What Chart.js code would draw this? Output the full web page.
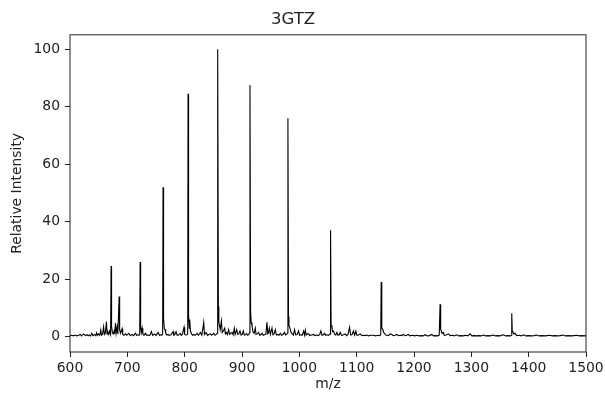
<!DOCTYPE html>
<html>
<head>
<meta charset="utf-8">
<script src="https://cdn.jsdelivr.net/npm/chart.js@4.4.1/dist/chart.umd.min.js"></script>
<style>
  html, body { margin: 0; padding: 0; background: #fff; }
  #wrap { width: 605px; height: 393px; }
</style>
</head>
<body>
<div id="wrap"><canvas id="spectrum" width="605" height="393"></canvas></div>
<script>
// m/z values (rows of ten, matching the intensity rows below)
const mz = [
  600, 603, 606, 609, 612, 615, 618, 620, 624, 627,
  630, 632, 634, 636, 638, 640, 643, 645, 646.5, 648,
  650, 652, 653.7, 655, 657, 658.6, 660, 661.5, 663.6, 664.6,
  666, 667.5, 669, 670.8, 671.7, 672.5, 674, 675.5, 677, 678,
  679.3, 680.5, 682.2, 683.5, 685.7, 686.6, 688, 690.9, 692, 694,
  696.7, 699, 702.5, 705, 708.3, 711, 714.1, 716, 718, 720,
  721.6, 722.3, 723.2, 724.5, 725.8, 727, 729, 731.6, 734, 737,
  739, 742, 744, 747.8, 750, 753.6, 756, 758, 760, 761.6,
  762.3, 763.2, 764.5, 765.8, 767, 769, 771, 773, 776, 779.8,
  781, 783, 785, 787, 789, 792, 794, 796, 798.9, 800,
  802, 804, 805.3, 805.9, 806.8, 808, 808.8, 810, 812, 814,
  816, 818, 821.6, 824, 827.4, 830, 833.2, 834.5, 837.3, 840,
  842, 844.8, 847, 850.6, 853, 855, 856.8, 857.6, 858.8, 859.6,
  860.5, 862, 864, 865.5, 867.5, 869.8, 871, 873, 874.5, 876.7,
  878.5, 880.5, 882.6, 884.5, 886.6, 888, 890.7, 892.5, 894.5, 896.5,
  898.5, 900.5, 902.3, 904, 906, 908.1, 910, 912, 913.2, 913.9,
  915, 916, 917.4, 919, 921, 923.2, 924.5, 926.5, 929, 931,
  933, 934.8, 937, 939, 941.5, 943.6, 944.8, 946, 947.6, 949.5,
  952.3, 954, 956, 958.1, 960, 962.5, 964.5, 966.8, 969, 971.5,
  974.3, 976, 978, 979.4, 980.1, 981.1, 981.9, 983.6, 985.5, 987.5,
  989.5, 991.7, 993.5, 996, 998.7, 1000.5, 1003, 1005, 1007.4, 1009,
  1010.4, 1012, 1014, 1016.2, 1018, 1021, 1024.9, 1027, 1030, 1033,
  1035.5, 1037.6, 1039.5, 1042, 1044, 1046, 1048.5, 1051, 1053.6, 1054.5,
  1055.4, 1056.8, 1058, 1059.7, 1061.5, 1063.5, 1065.5, 1067.5, 1069.5, 1071.3,
  1073.5, 1076, 1080, 1082.5, 1085, 1087.6, 1089.5, 1092, 1094.5, 1096.5,
  1098.6, 1100.5, 1103, 1106.2, 1109, 1112, 1115, 1117.8, 1121, 1125,
  1129.4, 1133, 1137, 1140.5, 1142, 1142.8, 1143.8, 1145.7, 1147, 1148.5,
  1150.5, 1153, 1155.5, 1158.5, 1161.4, 1164, 1167, 1170, 1173, 1176,
  1179, 1181, 1184, 1187, 1190, 1193, 1197, 1201, 1205, 1209,
  1213, 1216, 1219.4, 1223, 1227, 1231, 1234, 1238, 1241, 1244,
  1245.5, 1246.5, 1247.5, 1249, 1251, 1253, 1256, 1260, 1263, 1267,
  1270, 1274.5, 1278, 1282, 1286, 1290, 1294, 1297.8, 1301, 1305,
  1309, 1313, 1317, 1321, 1325, 1329, 1333, 1338.5, 1342, 1346,
  1350, 1356, 1360, 1364, 1368, 1369.8, 1370.5, 1371.4, 1372.3, 1374,
  1376, 1379, 1383, 1387, 1391, 1395, 1400, 1405, 1410, 1414,
  1418, 1423, 1428, 1432, 1437, 1441, 1446, 1450, 1455, 1460,
  1464, 1469, 1474, 1479, 1484, 1488, 1493, 1497, 1500
];

const intensity = [
  0.3, 0.5, 0.3, 0.6, 0.3, 0.5, 0.8, 0.3, 1.0, 0.4,
  0.7, 0.3, 0.6, 0.3, 1.2, 0.4, 0.8, 0.4, 1.4, 0.5,
  1.0, 0.5, 2.4, 0.6, 1.0, 3.4, 0.8, 1.2, 5.3, 1.0,
  1.6, 0.8, 2.0, 0.8, 24.6, 3.5, 1.5, 1.0, 2.0, 1.0,
  4.8, 1.2, 3.4, 1.0, 14.0, 2.5, 1.2, 2.8, 0.8, 0.5,
  1.0, 0.5, 1.2, 0.4, 0.8, 0.4, 1.3, 0.5, 0.7, 0.5,
  0.8, 26.0, 3.5, 1.5, 3.0, 1.0, 0.5, 1.2, 0.5, 0.6,
  0.4, 1.8, 0.5, 1.0, 0.4, 1.5, 0.5, 0.7, 0.5, 0.9,
  52.0, 6.4, 2.8, 2.5, 1.2, 0.6, 0.8, 0.5, 0.7, 1.8,
  0.5, 0.8, 1.8, 0.5, 0.6, 1.2, 0.5, 0.8, 3.3, 0.8,
  0.6, 0.7, 1.0, 84.5, 7.5, 3.0, 6.0, 2.0, 1.0, 0.5,
  0.8, 0.5, 1.2, 0.5, 1.5, 0.6, 5.0, 0.8, 1.5, 0.5,
  0.8, 1.0, 0.5, 1.2, 0.5, 0.8, 1.2, 100, 10.5, 5.0,
  4.0, 2.5, 5.5, 1.5, 2.0, 3.0, 1.0, 1.5, 0.8, 2.5,
  0.8, 1.2, 1.5, 0.7, 3.0, 0.8, 2.5, 0.8, 1.0, 2.0,
  0.6, 0.9, 2.0, 0.6, 0.7, 1.0, 0.5, 0.8, 1.5, 87.5,
  9.0, 5.0, 4.0, 1.8, 1.2, 3.0, 0.8, 1.0, 1.5, 0.5,
  0.7, 1.2, 0.5, 0.7, 0.8, 5.0, 1.0, 1.2, 3.0, 0.8,
  3.0, 0.7, 1.0, 2.5, 0.6, 0.8, 0.5, 1.2, 0.5, 0.8,
  1.5, 0.6, 0.8, 1.3, 76.0, 7.0, 4.0, 3.0, 1.5, 1.0,
  0.6, 2.5, 0.7, 0.8, 2.0, 0.5, 0.7, 0.5, 2.0, 0.6,
  2.3, 0.6, 1.0, 1.0, 0.4, 0.6, 0.8, 0.4, 0.6, 0.4,
  0.8, 2.0, 0.5, 0.7, 1.2, 0.5, 0.7, 0.5, 0.9, 37.0,
  4.0, 3.5, 1.8, 2.0, 0.8, 0.6, 1.5, 0.5, 0.7, 1.5,
  0.5, 0.6, 1.0, 0.4, 0.8, 3.3, 0.6, 0.8, 2.0, 0.6,
  2.0, 0.5, 0.6, 1.0, 0.4, 0.5, 0.4, 0.6, 0.3, 0.5,
  0.5, 0.3, 0.5, 0.4, 0.8, 19.0, 3.0, 2.5, 1.5, 1.2,
  0.6, 0.5, 0.4, 1.0, 0.8, 0.4, 0.5, 0.8, 0.4, 0.5,
  0.4, 0.9, 0.4, 0.5, 0.8, 0.3, 0.5, 0.3, 0.5, 0.3,
  0.4, 0.3, 0.7, 0.3, 0.4, 0.8, 0.3, 0.4, 0.3, 0.6,
  11.3, 2.5, 2.0, 1.2, 1.5, 0.5, 0.6, 1.0, 0.4, 0.5,
  0.3, 0.7, 0.3, 0.4, 0.3, 0.5, 0.3, 1.0, 0.3, 0.4,
  0.3, 0.4, 0.3, 0.6, 0.3, 0.4, 0.3, 0.6, 0.3, 0.4,
  0.3, 0.7, 0.3, 0.4, 0.3, 0.5, 8.2, 2.0, 1.8, 1.0,
  1.2, 0.4, 0.5, 0.3, 0.7, 0.3, 0.4, 0.3, 0.4, 0.6,
  0.3, 0.4, 0.3, 0.4, 0.5, 0.3, 0.4, 0.3, 0.4, 0.6,
  0.3, 0.4, 0.3, 0.4, 0.5, 0.3, 0.4, 0.3, 0.4
];

const xTicks = [600, 700, 800, 900, 1000, 1100, 1200, 1300, 1400, 1500];
const yTicks = [0, 20, 40, 60, 80, 100];

const FONT = "'DejaVu Sans', sans-serif";
const INK = '#222';

// matplotlib-style box around the plot area
const frame = {
    id: 'frame',
    afterDraw(chart) {
        const { ctx, chartArea: a } = chart;
        ctx.save();
        ctx.strokeStyle = INK;
        ctx.lineWidth = 1;
        ctx.strokeRect(a.left, a.top, a.right - a.left, a.bottom - a.top);
        ctx.restore();
    }
};

new Chart(document.getElementById('spectrum'), {
    type: 'line',
    data: {
        datasets: [{
            data: mz.map((m, i) => ({ x: m, y: intensity[i] })),
            borderColor: '#000',
            borderWidth: 1.1,
            pointRadius: 0,
            tension: 0,
            fill: false
        }]
    },
    options: {
        responsive: false,
        animation: false,
        layout: { padding: { left: 0, right: 19, top: 0, bottom: 0 } },
        plugins: {
            legend: { display: false },
            tooltip: { enabled: false },
            title: {
                display: true,
                text: '3GTZ',
                color: INK,
                font: { family: FONT, size: 16.5, weight: 'normal' },
                padding: { top: 10, bottom: 5 }
            }
        },
        scales: {
            x: {
                type: 'linear',
                min: 600,
                max: 1500,
                afterBuildTicks: s => { s.ticks = xTicks.map(v => ({ value: v })); },
                afterFit: s => { s.height = 41; s.paddingLeft = 0; s.paddingRight = 0; },
                border: { display: false },
                grid: { drawOnChartArea: false, drawTicks: true, tickLength: 5, color: INK },
                ticks: {
                    color: INK, padding: 3, maxRotation: 0,
                    font: { family: FONT, size: 13.9 },
                    callback: v => String(v)
                },
                title: {
                    display: true,
                    text: 'm/z',
                    color: INK,
                    font: { family: FONT, size: 13.9 },
                    padding: { top: 0, bottom: 0 }
                }
            },
            y: {
                type: 'linear',
                min: -5.3,
                max: 105,
                afterBuildTicks: s => { s.ticks = yTicks.map(v => ({ value: v })); },
                afterFit: s => { s.width = 70; s.paddingTop = 0; s.paddingBottom = 0; },
                border: { display: false },
                grid: { drawOnChartArea: false, drawTicks: true, tickLength: 5, color: INK },
                ticks: { color: INK, padding: 5, font: { family: FONT, size: 13.9 } },
                title: {
                    display: true,
                    text: 'Relative Intensity',
                    color: INK,
                    font: { family: FONT, size: 13.9 },
                    padding: { top: 9, bottom: 0 }
                }
            }
        }
    },
    plugins: [frame]
});
</script>
</body>
</html>
